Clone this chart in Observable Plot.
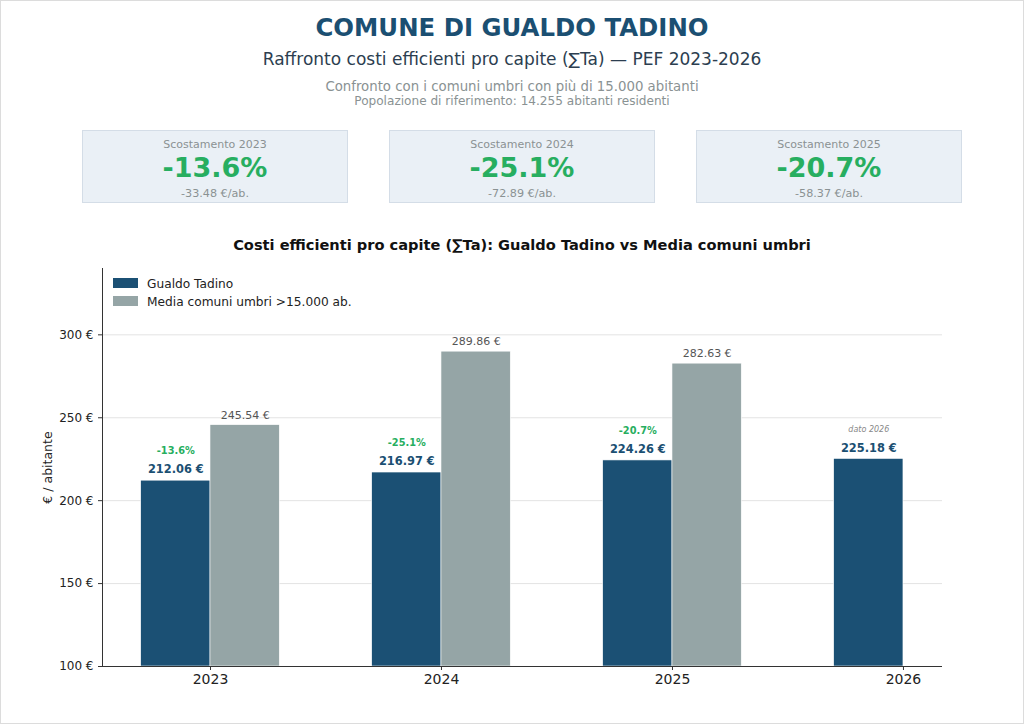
<!DOCTYPE html>
<html>
<head>
<meta charset="utf-8">
<script src="https://cdn.jsdelivr.net/npm/d3@7"></script>
<script src="https://cdn.jsdelivr.net/npm/@observablehq/plot@0.6"></script>
<style>
  html, body { margin: 0; padding: 0; background: #fff; }
  body { font-family: "DejaVu Sans", sans-serif; }
  #page { position: relative; width: 1024px; height: 724px; background: #fff; overflow: hidden; }
  #border { position: absolute; left: 0; top: 0; width: 1024px; height: 724px; box-sizing: border-box; border: 1px solid #dcdcdc; pointer-events: none; }
  .ctext { position: absolute; left: 0; width: 100%; text-align: center; white-space: nowrap; }
  .card { position: absolute; top: 130px; width: 266px; height: 73px; box-sizing: border-box; background: #eaf0f6; border: 1px solid #d4dde7; }
  .card div { position: absolute; left: 0; width: 100%; text-align: center; white-space: nowrap; }
  .leg { position: absolute; white-space: nowrap; font-size: 12.2px; color: #222; }
  .sw { position: absolute; width: 25px; height: 10px; }
  #chart { position: absolute; left: 0; top: 258px; }
</style>
</head>
<body>
<div id="page">
  <div class="ctext" style="top:13px;font-size:24.4px;line-height:30px;font-weight:bold;color:#1b4f72;">COMUNE DI GUALDO TADINO</div>
  <div class="ctext" style="top:49px;font-size:17px;line-height:20px;color:#2c3e50;">Raffronto costi efficienti pro capite (∑Ta) — PEF 2023-2026</div>
  <div class="ctext" style="top:79px;font-size:13.3px;line-height:16px;color:#8a9293;">Confronto con i comuni umbri con più di 15.000 abitanti</div>
  <div class="ctext" style="top:94px;font-size:12.1px;line-height:14px;color:#8a9293;">Popolazione di riferimento: 14.255 abitanti residenti</div>
  <div id="cards"></div>
  <div class="ctext" style="top:236px;left:102px;width:840px;font-size:14.6px;line-height:18px;font-weight:bold;color:#111;">Costi efficienti pro capite (∑Ta): Gualdo Tadino vs Media comuni umbri</div>
  <div id="chart"></div>
  <div id="legend"></div>
  <div id="border"></div>
</div>
<script>
const years = [2023, 2024, 2025, 2026];
const gualdo = [212.06, 216.97, 224.26, 225.18];
const mediaYears = [2023, 2024, 2025];
const media = [245.54, 289.86, 282.63];
const yTicks = [100, 150, 200, 250, 300];
const xDomain = [2022.5325, 2026.169];
const yDomain = [100, 340];
const seriesNames = ["Gualdo Tadino", "Media comuni umbri >15.000 ab."];
const colors = ["#1b5074", "#95a5a6"];
const noteLabel = "dato 2026";

const fmt = v => v.toFixed(2) + " €";
const gData = years.map((y, i) => ({year: y, value: gualdo[i]}));
const mData = mediaYears.map((y, i) => ({year: y, value: media[i]}));
const devData = mediaYears.map((y, i) => {
  const g = gualdo[years.indexOf(y)];
  return {year: y, value: g, pct: (g - media[i]) / media[i] * 100, diff: g - media[i]};
});
const noteData = years.filter(y => !mediaYears.includes(y)).map(y => ({year: y, value: gualdo[years.indexOf(y)]}));

// Cards
const cardsEl = document.getElementById("cards");
const cardLeft = [82, 389, 696];
devData.forEach((d, i) => {
  const c = document.createElement("div");
  c.className = "card";
  c.style.left = cardLeft[i] + "px";
  c.innerHTML =
    `<div style="top:7px;font-size:11px;line-height:14px;color:#8a9293;">Scostamento ${d.year}</div>` +
    `<div style="top:21px;font-size:27px;line-height:32px;font-weight:bold;color:#27ae60;">${d.pct.toFixed(1)}%</div>` +
    `<div style="top:56px;font-size:11.2px;line-height:13px;color:#8a9293;">${d.diff.toFixed(2)} €/ab.</div>`;
  cardsEl.appendChild(c);
});

// Legend
const legEl = document.getElementById("legend");
seriesNames.forEach((n, i) => {
  const top = 278 + i * 18;
  legEl.insertAdjacentHTML("beforeend",
    `<div class="sw" style="left:113px;top:${top}px;background:${colors[i]}"></div>` +
    `<div class="leg" style="left:147px;top:${top - 1}px;line-height:14px;">${n}</div>`);
});

const barW = 0.3;
const chart = Plot.plot({
  width: 1024,
  height: 450,
  marginTop: 10,
  marginBottom: 42,
  marginLeft: 102,
  marginRight: 82,
  style: {fontFamily: "DejaVu Sans, sans-serif", color: "#222", background: "transparent", overflow: "visible"},
  x: {type: "linear", domain: xDomain},
  y: {domain: yDomain},
  marks: [
    Plot.gridY(yTicks.filter(t => t > yDomain[0]), {stroke: "#e3e3e3", strokeOpacity: 1, strokeWidth: 1}),
    Plot.rect(gData, {x1: d => d.year - barW, x2: d => d.year, y1: yDomain[0], y2: "value", fill: colors[0], stroke: "#fff", strokeWidth: 0.6}),
    Plot.rect(mData, {x1: d => d.year, x2: d => d.year + barW, y1: yDomain[0], y2: "value", fill: colors[1], stroke: "#fff", strokeWidth: 0.6}),
    Plot.ruleX([xDomain[0]], {stroke: "#333", strokeWidth: 1}),
    Plot.ruleY([yDomain[0]], {stroke: "#333", strokeWidth: 1}),
    Plot.axisY({ticks: yTicks, tickFormat: d => d + " €", tickSize: 4, tickPadding: 5, fontSize: 12, label: null, stroke: "#333"}),
    Plot.axisX({ticks: years, tickFormat: d => String(d), tickSize: 4, tickPadding: 4, fontSize: 14, label: null, stroke: "#333"}),
    Plot.text(gData, {x: d => d.year - barW / 2, y: "value", text: d => fmt(d.value), dy: -11, fontSize: 11.4, fontWeight: "bold", fill: "#1b4f72"}),
    Plot.text(mData, {x: d => d.year + barW / 2, y: "value", text: d => fmt(d.value), dy: -10, fontSize: 11, fill: "#555"}),
    Plot.text(devData, {x: d => d.year - barW / 2, y: "value", text: d => d.pct.toFixed(1) + "%", dy: -30, fontSize: 9.8, fontWeight: "bold", fill: "#27ae60"}),
    Plot.text(noteData, {x: d => d.year - barW / 2, y: "value", text: () => noteLabel, dy: -29, fontSize: 8, fontStyle: "italic", fill: "#888"}),
    Plot.text(["€ / abitante"], {frameAnchor: "left", rotate: -90, dx: -55, textAnchor: "middle", fontSize: 12.5, fill: "#222"})
  ]
});
document.getElementById("chart").appendChild(chart);
</script>
</body>
</html>
